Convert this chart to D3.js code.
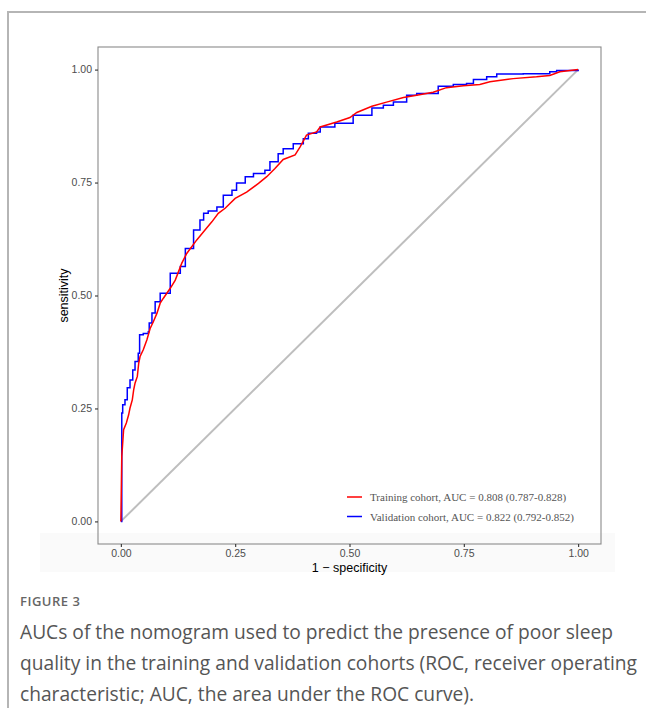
<!DOCTYPE html>
<html>
<head>
<meta charset="utf-8">
<script src="https://cdn.jsdelivr.net/npm/d3@7"></script>
<style>
  body { margin: 0; background: #fff; }
  svg { display: block; }
</style>
</head>
<body>
<div id="canvas"></div>
<script>
"use strict"

// ROC points: 1 - specificity, sensitivity
let trainFpr = [0, 0.002, 0.006, 0.012, 0.017, 0.020, 0.025, 0.028, 0.031, 0.036, 0.039, 0.042, 0.049, 0.057, 0.064, 0.071, 0.079, 0.086, 0.093, 0.108, 0.119, 0.133, 0.144, 0.166, 0.184, 0.199, 0.213, 0.228, 0.250, 0.275, 0.301, 0.319, 0.337, 0.355, 0.381, 0.392, 0.406, 0.428, 0.436, 0.472, 0.501, 0.516, 0.549, 0.581, 0.618, 0.647, 0.683, 0.712, 0.749, 0.785, 0.807, 0.858, 0.909, 0.938, 0.960, 1];
let trainTpr = [0, 0.144, 0.203, 0.218, 0.236, 0.251, 0.269, 0.291, 0.306, 0.321, 0.350, 0.365, 0.380, 0.402, 0.427, 0.442, 0.461, 0.483, 0.494, 0.516, 0.534, 0.571, 0.593, 0.623, 0.645, 0.663, 0.682, 0.693, 0.715, 0.729, 0.748, 0.763, 0.781, 0.801, 0.811, 0.829, 0.855, 0.862, 0.873, 0.884, 0.894, 0.905, 0.919, 0.928, 0.938, 0.943, 0.950, 0.960, 0.964, 0.967, 0.973, 0.980, 0.984, 0.987, 0.995, 1];

let validFpr = [0, 0.002, 0.004, 0.009, 0.014, 0.020, 0.026, 0.031, 0.038, 0.041, 0.049, 0.060, 0.062, 0.068, 0.075, 0.086, 0.093, 0.108, 0.130, 0.141, 0.159, 0.173, 0.181, 0.191, 0.210, 0.224, 0.243, 0.253, 0.272, 0.290, 0.315, 0.326, 0.344, 0.355, 0.377, 0.399, 0.410, 0.428, 0.436, 0.468, 0.508, 0.549, 0.574, 0.596, 0.625, 0.647, 0.694, 0.727, 0.756, 0.771, 0.800, 0.822, 0.880, 0.938, 0.953, 1];
let validTpr = [0, 0.240, 0.258, 0.269, 0.296, 0.313, 0.335, 0.354, 0.372, 0.413, 0.416, 0.420, 0.439, 0.461, 0.486, 0.505, 0.505, 0.549, 0.564, 0.604, 0.645, 0.667, 0.682, 0.687, 0.696, 0.722, 0.733, 0.749, 0.763, 0.770, 0.777, 0.796, 0.814, 0.825, 0.836, 0.847, 0.859, 0.862, 0.873, 0.881, 0.899, 0.915, 0.921, 0.928, 0.943, 0.947, 0.963, 0.967, 0.969, 0.978, 0.984, 0.990, 0.991, 0.995, 0.998, 1];

let tickValues = [0, 0.25, 0.5, 0.75, 1];
let tickLabels = ["0.00", "0.25", "0.50", "0.75", "1.00"];
let legendLabels = ["Training cohort, AUC = 0.808 (0.787-0.828)", "Validation cohort, AUC = 0.822 (0.792-0.852)"];
let legendColors = ["#ff0000", "#0000ff"];

let captionTitle = "FIGURE 3";
let captionLines = [
    "AUCs of the nomogram used to predict the presence of poor sleep",
    "quality in the training and validation cohorts (ROC, receiver operating",
    "characteristic; AUC, the area under the ROC curve)."
];

let drawing = d3.select("#canvas")
    .append("svg")
    .attr("width", 646)
    .attr("height", 708);

// card border (top + left)
drawing.append("line")
    .attr("x1", 8).attr("y1", 12).attr("x2", 646).attr("y2", 12)
    .attr("stroke", "#b5b5b5").attr("stroke-width", 2);
drawing.append("line")
    .attr("x1", 8).attr("y1", 11).attr("x2", 8).attr("y2", 708)
    .attr("stroke", "#b5b5b5").attr("stroke-width", 2);

// faint band under the plot image
drawing.append("rect")
    .attr("x", 40).attr("y", 533).attr("width", 575).attr("height", 39)
    .attr("fill", "#fafafa");

let panel = {left: 98, top: 47, right: 601, bottom: 544};

let x = d3.scaleLinear().domain([-0.05, 1.05]).range([panel.left, panel.right]);
let y = d3.scaleLinear().domain([-0.05, 1.05]).range([panel.bottom, panel.top]);

// panel border
drawing.append("rect")
    .attr("x", panel.left).attr("y", panel.top)
    .attr("width", panel.right - panel.left)
    .attr("height", panel.bottom - panel.top)
    .attr("fill", "none")
    .attr("stroke", "#8a8a8a")
    .attr("stroke-width", 1.1);

// axes
let xAxis = drawing.append("g")
    .attr("transform", "translate(0," + panel.bottom + ")")
    .call(d3.axisBottom(x).tickValues(tickValues).tickSize(3).tickPadding(3)
        .tickFormat((d, i) => tickLabels[i]));
let yAxis = drawing.append("g")
    .attr("transform", "translate(" + panel.left + ",0)")
    .call(d3.axisLeft(y).tickValues(tickValues).tickSize(3).tickPadding(3)
        .tickFormat((d, i) => tickLabels[i]));

[xAxis, yAxis].forEach(function (ax) {
    ax.select(".domain").remove();
    ax.selectAll(".tick line").attr("stroke", "#333").attr("stroke-width", 1.1);
    ax.selectAll(".tick text")
        .attr("fill", "#4d4d4d")
        .style("font-family", "'Liberation Sans', Arial, sans-serif")
        .style("font-size", "10.5px");
});

// axis titles
drawing.append("text")
    .attr("x", (panel.left + panel.right) / 2)
    .attr("y", 572)
    .attr("text-anchor", "middle")
    .style("font-family", "'Liberation Sans', Arial, sans-serif")
    .style("font-size", "12.5px")
    .attr("fill", "#000")
    .text("1 \u2212 specificity");

drawing.append("text")
    .attr("transform", "translate(68," + ((panel.top + panel.bottom) / 2) + ") rotate(-90)")
    .attr("text-anchor", "middle")
    .style("font-family", "'Liberation Sans', Arial, sans-serif")
    .style("font-size", "12.5px")
    .attr("fill", "#000")
    .text("sensitivity");

// reference diagonal
drawing.append("line")
    .attr("x1", x(0)).attr("y1", y(0))
    .attr("x2", x(1)).attr("y2", y(1))
    .attr("stroke", "#bebebe")
    .attr("stroke-width", 2);

let trainPts = trainFpr.map((d, i) => [d, trainTpr[i]]);
let validPts = validFpr.map((d, i) => [d, validTpr[i]]);

let stepLine = d3.line().x(d => x(d[0])).y(d => y(d[1])).curve(d3.curveStepAfter);
let plainLine = d3.line().x(d => x(d[0])).y(d => y(d[1]));

drawing.append("path")
    .attr("d", stepLine(validPts))
    .attr("fill", "none")
    .attr("stroke", legendColors[1])
    .attr("stroke-width", 1.5);

drawing.append("path")
    .attr("d", plainLine(trainPts))
    .attr("fill", "none")
    .attr("stroke", legendColors[0])
    .attr("stroke-width", 1.5);

// legend
legendLabels.forEach(function (lab, i) {
    let ly = 497 + i * 19.5;
    drawing.append("line")
        .attr("x1", 347).attr("x2", 362)
        .attr("y1", ly).attr("y2", ly)
        .attr("stroke", legendColors[i])
        .attr("stroke-width", 1.5);
    drawing.append("text")
        .attr("x", 370).attr("y", ly + 4)
        .style("font-family", "'Liberation Serif', 'Times New Roman', serif")
        .style("font-size", "11px")
        .attr("fill", "#555")
        .text(lab);
});

// caption
drawing.append("text")
    .attr("x", 20).attr("y", 606)
    .style("font-family", "'Open Sans', sans-serif")
    .style("font-size", "13px")
    .style("font-weight", "600")
    .style("letter-spacing", "0.5px")
    .attr("fill", "#666")
    .text(captionTitle);

captionLines.forEach(function (line, i) {
    drawing.append("text")
        .attr("x", 20).attr("y", 639 + i * 31)
        .style("font-family", "'Open Sans', sans-serif")
        .style("font-size", "19.2px")
        .attr("fill", "#555")
        .text(line);
});
</script>
</body>
</html>
